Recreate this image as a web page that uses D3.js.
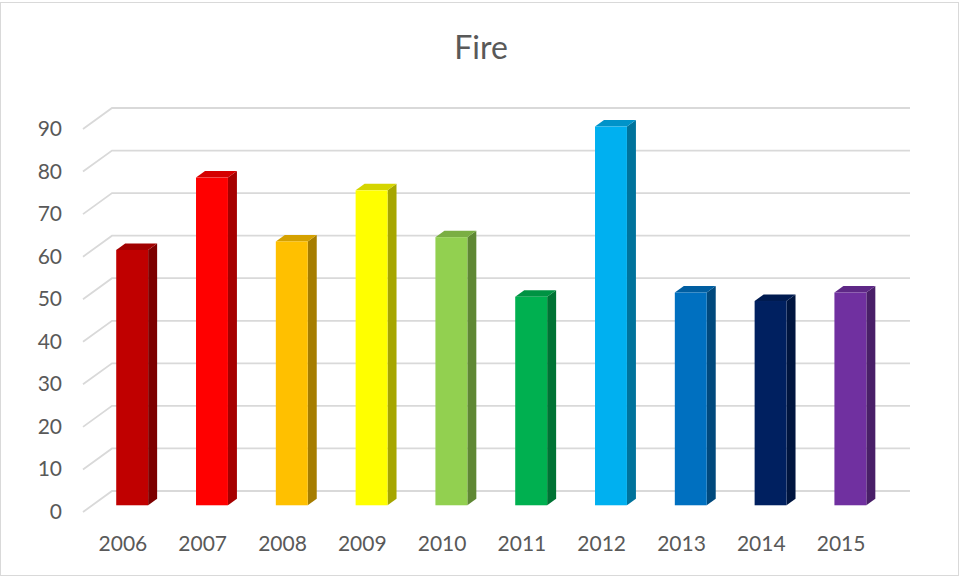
<!DOCTYPE html>
<html>
<head>
<meta charset="utf-8">
<script src="https://cdn.jsdelivr.net/npm/d3@7"></script>
<style>
  body { margin: 0; background: #fff; }
</style>
</head>
<body>
<div id="chart"></div>
<script>
const years = ["2006", "2007", "2008", "2009", "2010", "2011", "2012", "2013", "2014", "2015"];
const values = [60, 77, 62, 74, 63, 49, 89, 50, 48, 50];
const colors = [
  "#c00000", "#ff0000", "#ffc000", "#ffff00", "#92d050",
  "#00b050", "#00b0f0", "#0070c0", "#002060", "#7030a0"
];
const yTicks = [0, 10, 20, 30, 40, 50, 60, 70, 80, 90];

const width = 961;
const height = 578;
// depth offset of the 3d box: back wall -> front edge
const depthX = -29;
const depthY = 21;
const barFront = 0.68;
const barBack = 0.37;

const svg = d3.select("#chart")
  .append("svg")
  .attr("width", width)
  .attr("height", height)
  .style("font-family", "Lato, sans-serif");

// chart border
svg.append("rect")
  .attr("x", 0.5)
  .attr("y", 2.5)
  .attr("width", 958)
  .attr("height", 573)
  .attr("fill", "white")
  .attr("stroke", "#d9d9d9")
  .attr("stroke-width", 1);

// scales on the back wall
const x = d3.scaleBand()
  .domain(years)
  .range([112, 910]);

const y = d3.scaleLinear()
  .domain([0, 90])
  .range([491, 108]);

const colorOf = d3.scaleOrdinal().domain(years).range(colors);

// project a point at depth z (0 = back wall, 1 = front)
const px = (sx, z) => sx + depthX * z;
const py = (sy, z) => sy + depthY * z;

// title
svg.append("text")
  .attr("x", 481)
  .attr("y", 59)
  .attr("text-anchor", "middle")
  .attr("font-size", "32px")
  .attr("fill", "#595959")
  .text("Fire");

// gridlines: back wall + left side wall
const grid = svg.append("g")
  .attr("stroke", "#d9d9d9")
  .attr("stroke-width", 1.8)
  .attr("fill", "none");

yTicks.forEach(t => {
  const sy = y(t);
  grid.append("path")
    .attr("d", `M${px(x.range()[0], 1)},${py(sy, 1)}L${x.range()[0]},${sy}H${x.range()[1]}`);
});

// y labels
svg.append("g")
  .selectAll("text")
  .data(yTicks)
  .join("text")
  .attr("x", 62)
  .attr("y", d => py(y(d), 1) + 7)
  .attr("text-anchor", "end")
  .attr("font-size", "21px")
  .attr("fill", "#595959")
  .text(d => d);

// bars
const bw = x.bandwidth() * 0.4;
const bars = svg.append("g");

years.forEach((yr, i) => {
  const c = d3.color(colorOf(yr));
  const cx = x(yr) + x.bandwidth() / 2;
  const l = cx - bw / 2;
  const r = cx + bw / 2;
  const top = y(values[i]);
  const base = y(0);

  // front face
  const fl = px(l, barFront), fr = px(r, barFront);
  const ft = py(top, barFront), fb = py(base, barFront);
  // back corners
  const br = px(r, barBack), bl = px(l, barBack);
  const bt = py(top, barBack), bb = py(base, barBack);

  bars.append("path")
    .attr("d", `M${fr},${ft}L${br},${bt}V${bb}L${fr},${fb}Z`)
    .attr("fill", c.darker(1.2));

  bars.append("path")
    .attr("d", `M${fl},${ft}L${bl},${bt}H${br}L${fr},${ft}Z`)
    .attr("fill", c.darker(0.5));

  bars.append("rect")
    .attr("x", fl)
    .attr("y", ft)
    .attr("width", fr - fl)
    .attr("height", fb - ft)
    .attr("fill", c);
});

// x labels on the front edge
svg.append("g")
  .selectAll("text")
  .data(years)
  .join("text")
  .attr("x", d => px(x(d) + x.bandwidth() / 2, 1))
  .attr("y", 551)
  .attr("text-anchor", "middle")
  .attr("font-size", "21px")
  .attr("fill", "#595959")
  .text(d => d);
</script>
</body>
</html>
